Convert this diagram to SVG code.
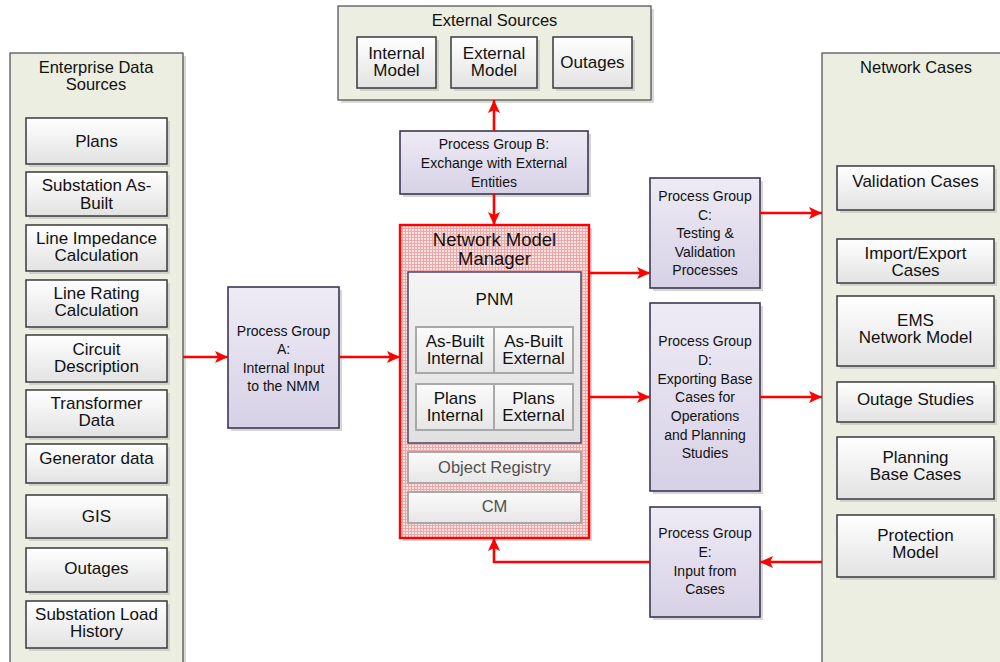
<svg xmlns="http://www.w3.org/2000/svg" width="1000" height="662" viewBox="0 0 1000 662">
<style>
text{font-family:"Liberation Sans",Arial,sans-serif;fill:#111;text-anchor:middle}
.panel{fill:#ebeee0;stroke:#4a4a4a;stroke-width:1.2}
.pshadow{fill:#d9dad2}
.shadow{fill:#c4c4c4;opacity:0.7}
.box{fill:url(#gBox);stroke:#3a3a3a;stroke-width:1.5}
.proc{fill:url(#gProc);stroke:#3d3654;stroke-width:1.6}
.t17{font-size:17px}
.t16{font-size:16.5px}
.t14{font-size:14px}
.inner{fill:url(#gInner);stroke:#a8a8a8;stroke-width:2}
.conn{fill:none;stroke:#ff0000;stroke-width:2.6;marker-end:url(#arr)}
</style>
<defs>
<linearGradient id="gBox" x1="0" y1="0" x2="0" y2="1"><stop offset="0" stop-color="#ffffff"/><stop offset="1" stop-color="#e2e2e2"/></linearGradient>
<linearGradient id="gProc" x1="0" y1="0" x2="0" y2="1"><stop offset="0" stop-color="#eeebf5"/><stop offset="1" stop-color="#d7d1e6"/></linearGradient>
<linearGradient id="gInner" x1="0" y1="0" x2="0" y2="1"><stop offset="0" stop-color="#fbfbfb"/><stop offset="1" stop-color="#e6e6e6"/></linearGradient>
<linearGradient id="gPnm" x1="0" y1="0" x2="0" y2="1"><stop offset="0" stop-color="#f4f4f4"/><stop offset="1" stop-color="#e0e0e0"/></linearGradient>
<pattern id="hatch" width="3" height="3" patternUnits="userSpaceOnUse"><rect width="3" height="3" fill="#fbe4e4"/><path d="M0 0.5H3M0.5 0V3" stroke="#eea6a6" stroke-width="1"/></pattern>
<marker id="arr" markerUnits="userSpaceOnUse" markerWidth="14" markerHeight="14" refX="13" refY="7" orient="auto"><path d="M0 1L13 7L0 13L3 7Z" fill="#ff0000"/></marker>
</defs>

<g id="enterprise-data-sources">
<rect class="pshadow" x="13" y="56" width="173" height="610"/>
<rect class="panel" x="10" y="53" width="173" height="612"/>
<text class="t16" x="96" y="73">Enterprise Data</text>
<text class="t16" x="96" y="90">Sources</text>
</g>
<g id="plans"><rect class="shadow" x="29" y="121" width="141" height="46"/><rect class="box" x="26" y="118" width="141" height="46"/><text class="t17" x="96.5" y="147">Plans</text></g>
<g id="substation-as-built"><rect class="shadow" x="29" y="175" width="141" height="44"/><rect class="box" x="26" y="172" width="141" height="44"/><text class="t17" x="96.5" y="191">Substation As-</text><text class="t17" x="96.5" y="209">Built</text></g>
<g id="line-impedance"><rect class="shadow" x="29" y="228" width="141" height="46"/><rect class="box" x="26" y="225" width="141" height="46"/><text class="t17" x="96.5" y="244">Line Impedance</text><text class="t17" x="96.5" y="261">Calculation</text></g>
<g id="line-rating"><rect class="shadow" x="29" y="283" width="141" height="47"/><rect class="box" x="26" y="280" width="141" height="47"/><text class="t17" x="96.5" y="299">Line Rating</text><text class="t17" x="96.5" y="316">Calculation</text></g>
<g id="circuit-description"><rect class="shadow" x="29" y="338" width="141" height="47"/><rect class="box" x="26" y="335" width="141" height="47"/><text class="t17" x="96.5" y="355">Circuit</text><text class="t17" x="96.5" y="372">Description</text></g>
<g id="transformer-data"><rect class="shadow" x="29" y="393" width="141" height="47"/><rect class="box" x="26" y="390" width="141" height="47"/><text class="t17" x="96.5" y="409">Transformer</text><text class="t17" x="96.5" y="426">Data</text></g>
<g id="generator-data"><rect class="shadow" x="29" y="447" width="141" height="39"/><rect class="box" x="26" y="444" width="141" height="39"/><text class="t17" x="96.5" y="464">Generator data</text></g>
<g id="gis"><rect class="shadow" x="29" y="498" width="141" height="43"/><rect class="box" x="26" y="495" width="141" height="43"/><text class="t17" x="96.5" y="522">GIS</text></g>
<g id="outages-left"><rect class="shadow" x="29" y="551" width="141" height="44"/><rect class="box" x="26" y="548" width="141" height="44"/><text class="t17" x="96.5" y="574">Outages</text></g>
<g id="substation-load-history"><rect class="shadow" x="29" y="604" width="141" height="47"/><rect class="box" x="26" y="601" width="141" height="47"/><text class="t17" x="96.5" y="620">Substation Load</text><text class="t17" x="96.5" y="637">History</text></g>

<g id="external-sources">
<rect class="pshadow" x="341" y="9" width="313" height="94"/>
<rect class="panel" x="338" y="6" width="313" height="94"/>
<text class="t16" x="494.5" y="26">External Sources</text>
</g>
<g id="internal-model"><rect class="shadow" x="360" y="40" width="79" height="51"/><rect class="box" x="357" y="37" width="79" height="51"/><text class="t17" x="396.5" y="59">Internal</text><text class="t17" x="396.5" y="76">Model</text></g>
<g id="external-model"><rect class="shadow" x="454" y="40" width="86" height="51"/><rect class="box" x="451" y="37" width="86" height="51"/><text class="t17" x="494" y="59">External</text><text class="t17" x="494" y="76">Model</text></g>
<g id="outages-ext"><rect class="shadow" x="556" y="40" width="79" height="51"/><rect class="box" x="553" y="37" width="79" height="51"/><text class="t17" x="592.5" y="68">Outages</text></g>

<g id="process-b"><rect class="shadow" x="403" y="134" width="188" height="63"/><rect class="proc" x="400" y="131" width="188" height="63"/><text class="t14" x="494" y="149">Process Group B:</text><text class="t14" x="494" y="168">Exchange with External</text><text class="t14" x="494" y="187">Entities</text></g>

<g id="process-a"><rect class="shadow" x="231" y="290" width="111" height="141"/><rect class="proc" x="228" y="287" width="111" height="141"/><text class="t14" x="283.5" y="336">Process Group</text><text class="t14" x="283.5" y="354">A:</text><text class="t14" x="283.5" y="373">Internal Input</text><text class="t14" x="283.5" y="391">to the NMM</text></g>

<g id="network-model-manager">
<rect x="403" y="228" width="189" height="313" fill="#d6d6d6"/>
<rect x="400" y="225" width="189" height="313" fill="url(#hatch)" stroke="#ff0000" stroke-width="2.4"/>
<text x="494.5" y="246" style="font-size:18.5px">Network Model</text>
<text x="494.5" y="265" style="font-size:18.5px">Manager</text>
<g id="pnm">
<rect x="408" y="272" width="173" height="171" fill="url(#gPnm)" stroke="#4a4460" stroke-width="1.5"/>
<text class="t17" x="494.5" y="305">PNM</text>
</g>
<g id="as-built-internal"><rect class="inner" x="416" y="327" width="78" height="46"/><text class="t17" x="455" y="347">As-Built</text><text class="t17" x="455" y="364">Internal</text></g>
<g id="as-built-external"><rect class="inner" x="494" y="327" width="79" height="46"/><text class="t17" x="533.5" y="347">As-Built</text><text class="t17" x="533.5" y="364">External</text></g>
<g id="plans-internal"><rect class="inner" x="416" y="384" width="78" height="46"/><text class="t17" x="455" y="404">Plans</text><text class="t17" x="455" y="421">Internal</text></g>
<g id="plans-external"><rect class="inner" x="494" y="384" width="79" height="46"/><text class="t17" x="533.5" y="404">Plans</text><text class="t17" x="533.5" y="421">External</text></g>
<g id="object-registry"><rect class="inner" x="408" y="452" width="173" height="31"/><text class="t16" x="494.5" y="473" style="fill:#505050">Object Registry</text></g>
<g id="cm"><rect class="inner" x="408" y="492" width="173" height="31"/><text class="t16" x="494.5" y="512" style="fill:#505050">CM</text></g>
</g>

<g id="process-c"><rect class="shadow" x="653" y="181" width="110" height="110"/><rect class="proc" x="650" y="178" width="110" height="110"/><text class="t14" x="705" y="201">Process Group</text><text class="t14" x="705" y="220">C:</text><text class="t14" x="705" y="238">Testing &amp;</text><text class="t14" x="705" y="257">Validation</text><text class="t14" x="705" y="275">Processes</text></g>
<g id="process-d"><rect class="shadow" x="653" y="306" width="110" height="188"/><rect class="proc" x="650" y="303" width="110" height="188"/><text class="t14" x="705" y="346">Process Group</text><text class="t14" x="705" y="365">D:</text><text class="t14" x="705" y="384">Exporting Base</text><text class="t14" x="705" y="402">Cases for</text><text class="t14" x="705" y="421">Operations</text><text class="t14" x="705" y="440">and Planning</text><text class="t14" x="705" y="458">Studies</text></g>
<g id="process-e"><rect class="shadow" x="653" y="510" width="110" height="110"/><rect class="proc" x="650" y="507" width="110" height="110"/><text class="t14" x="705" y="538">Process Group</text><text class="t14" x="705" y="557">E:</text><text class="t14" x="705" y="576">Input from</text><text class="t14" x="705" y="594">Cases</text></g>

<g id="network-cases">
<rect class="pshadow" x="825" y="56" width="180" height="610"/>
<rect class="panel" x="822" y="53" width="185" height="612"/>
<text class="t16" x="916" y="73">Network Cases</text>
</g>
<g id="validation-cases"><rect class="shadow" x="840" y="169" width="157" height="44"/><rect class="box" x="837" y="166" width="157" height="44"/><text class="t17" x="915.5" y="187">Validation Cases</text></g>
<g id="import-export-cases"><rect class="shadow" x="840" y="242" width="157" height="44"/><rect class="box" x="837" y="239" width="157" height="44"/><text class="t17" x="915.5" y="259">Import/Export</text><text class="t17" x="915.5" y="276">Cases</text></g>
<g id="ems-network-model"><rect class="shadow" x="840" y="299" width="157" height="70"/><rect class="box" x="837" y="296" width="157" height="70"/><text class="t17" x="915.5" y="326">EMS</text><text class="t17" x="915.5" y="343">Network Model</text></g>
<g id="outage-studies"><rect class="shadow" x="840" y="385" width="157" height="40"/><rect class="box" x="837" y="382" width="157" height="40"/><text class="t17" x="915.5" y="405">Outage Studies</text></g>
<g id="planning-base-cases"><rect class="shadow" x="840" y="440" width="157" height="62"/><rect class="box" x="837" y="437" width="157" height="62"/><text class="t17" x="915.5" y="463">Planning</text><text class="t17" x="915.5" y="480">Base Cases</text></g>
<g id="protection-model"><rect class="shadow" x="840" y="518" width="157" height="62"/><rect class="box" x="837" y="515" width="157" height="62"/><text class="t17" x="915.5" y="541">Protection</text><text class="t17" x="915.5" y="558">Model</text></g>

<g id="connectors">
<path class="conn" d="M183 357H228"/>
<path class="conn" d="M339 357H400"/>
<path class="conn" d="M494 131V100"/>
<path class="conn" d="M494 194V225"/>
<path class="conn" d="M589 273H650"/>
<path class="conn" d="M760 213H822"/>
<path class="conn" d="M589 397H650"/>
<path class="conn" d="M760 397H822"/>
<path class="conn" d="M822 562H760"/>
<path class="conn" d="M650 562H494V538"/>
</g>
</svg>
